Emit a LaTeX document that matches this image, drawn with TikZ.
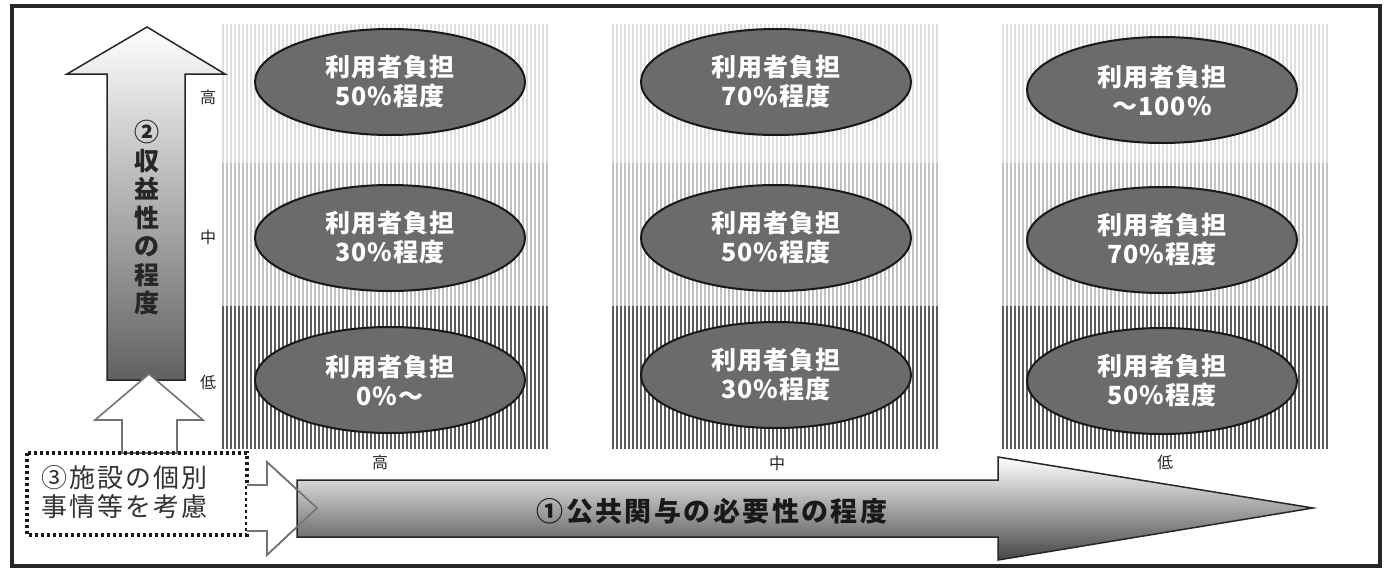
\documentclass[tikz,border=0pt]{standalone}
\usepackage{fontspec}
\newfontfamily\jp{Noto Sans CJK JP}
\usetikzlibrary{shapes.geometric}
\tikzset{
  outerframe/.style={draw=black!85, line width=4pt},
  burden/.style={ellipse, draw=black!90, line width=2pt, fill=black!58,
    minimum width=270pt, minimum height=106pt, inner sep=0pt, text=white,
    font=\jp\bfseries\fontsize{25}{29}\selectfont\addfontfeature{LetterSpace=4}, align=center},
  sidelbl/.style={font=\jp\fontsize{16}{16}\selectfont, text=black!85, inner sep=0pt},
  uparrow/.style={draw=black!85, line width=1.5pt, top color=white, bottom color=black!62},
  bigarrow/.style={draw=black!85, line width=1.5pt, top color=white, bottom color=black!72},
  smallarrow/.style={draw=black!55, line width=1.6pt, fill=white},
  smallarrowline/.style={draw=black!55, line width=1.6pt},
  dotbox/.style={draw=black!90, line width=3.2pt, dash pattern=on 3pt off 3pt},
  stripeA/.style={draw=black!13, line width=1.8pt},
  stripeB/.style={draw=black!24, line width=1.8pt},
  stripeC/.style={draw=black!64, line width=1.9pt},
}
\newcommand\vstripes[5]{%
  \foreach \i in {0,...,81}{\draw[#5] ({#1+1+4*\i},#3) -- ({#1+1+4*\i},#4);}}
\begin{document}
\begin{tikzpicture}[x=1pt,y=-1pt]
\useasboundingbox (0,0) rectangle (1394,570);
\fill[white] (0,0) rectangle (1394,570);
\draw[outerframe] (12,6) rectangle (1380,566);
% stripe cells
\foreach \cx in {222,612,1002}{
  \vstripes{\cx}{}{24}{163}{stripeA}
  \vstripes{\cx}{}{163}{306}{stripeB}
  \vstripes{\cx}{}{306}{449}{stripeC}
}
% ellipses
\node[burden] (e11) at (390,82) {利用者負担\\50\%程度};
\node[burden] (e12) at (390,238) {利用者負担\\30\%程度};
\node[burden] (e13) at (390,380) {利用者負担\\0\%〜};
\node[burden] (e21) at (776,82) {利用者負担\\70\%程度};
\node[burden] (e22) at (776,238) {利用者負担\\50\%程度};
\node[burden] (e23) at (776,375) {利用者負担\\30\%程度};
\node[burden] (e31) at (1162,90) {利用者負担\\〜100\%};
\node[burden] (e32) at (1162,240) {利用者負担\\70\%程度};
\node[burden] (e33) at (1162,381) {利用者負担\\50\%程度};
% side labels
\node[sidelbl] (sh) at (208,97) {高};
\node[sidelbl] (sm) at (208,237) {中};
\node[sidelbl] (sl) at (208,382) {低};
\node[sidelbl] (bh) at (380,462) {高};
\node[sidelbl] (bm) at (777,463) {中};
\node[sidelbl] (bl) at (1165,462) {低};
% vertical arrow (2)
\path[uparrow] (147,27) -- (225,74) -- (185,74) -- (185,380) -- (107,380) -- (107,74) -- (67,74) -- cycle;
\node[font=\jp\bfseries\fontsize{25}{28.5}\selectfont, text=black!85, align=center, inner sep=0pt] (t2) at (147,218) {②\\収\\益\\性\\の\\程\\度};
% small up arrow
\path[smallarrow] (149,374) -- (203,420) -- (177,420) -- (177,453) -- (122,453) -- (122,420) -- (95,420) -- cycle;
% dotted box (3)
\draw[dotbox] (27,453) rectangle (247,535);
\node[font=\jp\fontsize{26}{29}\selectfont\addfontfeature{LetterSpace=8}, text=black!80, align=left, anchor=west, inner sep=0pt] (t3) at (41,492) {③施設の個別\\事情等を考慮};
% small right arrow
\path[smallarrow] (247,485) -- (267,485) -- (267,462) -- (317,508) -- (267,555) -- (267,531) -- (247,531);
% big arrow (1)
\path[bigarrow] (297,480) -- (998,480) -- (998,457) -- (1313,508) -- (998,560) -- (998,537) -- (297,537) -- cycle;
\draw[smallarrowline] (247,485) -- (267,485) -- (267,462) -- (317,508) -- (267,555) -- (267,531) -- (247,531);
\node[font=\jp\bfseries\fontsize{27}{27}\selectfont, text=black!90, inner sep=0pt] (t1) at (712,511) {\addfontfeature{LetterSpace=9}①公共関与の必要性の程度};
\end{tikzpicture}
\end{document}
